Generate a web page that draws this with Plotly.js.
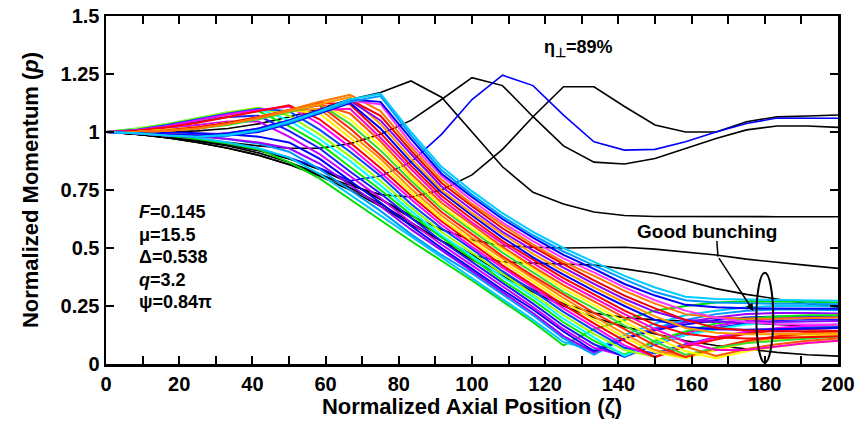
<!DOCTYPE html>
<html><head><meta charset="utf-8">
<script src="https://cdn.plot.ly/plotly-3.0.1.min.js"></script>
<style>html,body{margin:0;padding:0;background:#fff}#chart{width:858px;height:429px}</style>
</head><body><div id="chart"></div>
<script>
const zeta = [0,8.33,16.67,25,33.33,41.67,50,58.33,66.67,75,83.33,91.67,100,108.33,116.67,125,133.33,141.67,150,158.33,166.67,175,183.33,191.67,200];

// black / escaping trajectories
const blackA = [1,1.0,1.0,1.005,1.015,1.035,1.065,1.1,1.14,1.17,1.22,1.15,1.0,0.85,0.74,0.69,0.655,0.64,0.636,0.635,0.635,0.635,0.635,0.635,0.635];
const blackB = [1,0.995,0.985,0.97,0.955,0.94,0.93,0.93,0.95,0.99,1.05,1.14,1.234,1.2,1.066,0.94,0.87,0.862,0.886,0.93,0.972,1.009,1.026,1.026,1.02];
const blackC = [1,0.99,0.975,0.955,0.93,0.9,0.86,0.815,0.77,0.73,0.72,0.75,0.815,0.925,1.066,1.195,1.195,1.11,1.03,1.0,1.0,1.044,1.066,1.069,1.073];
const blackD = [1,0.99,0.98,0.965,0.945,0.92,0.885,0.84,0.78,0.71,0.64,0.58,0.535,0.51,0.503,0.5,0.5,0.503,0.495,0.484,0.47,0.452,0.44,0.425,0.412];
const blackE = [1,0.99,0.975,0.955,0.93,0.9,0.86,0.81,0.75,0.68,0.6,0.53,0.47,0.44,0.435,0.43,0.427,0.41,0.39,0.36,0.325,0.3,0.28,0.26,0.245];
const blackF = [1,0.99,0.975,0.96,0.94,0.91,0.87,0.82,0.76,0.69,0.61,0.53,0.45,0.38,0.31,0.25,0.2,0.16,0.13,0.1,0.08,0.065,0.05,0.04,0.034];
const blackG = [1,0.99,0.98,0.965,0.945,0.92,0.885,0.84,0.78,0.71,0.63,0.55,0.47,0.39,0.32,0.26,0.22,0.2,0.19,0.185,0.18,0.175,0.17,0.165,0.16];
const blueEsc = [1,0.995,0.985,0.97,0.95,0.925,0.89,0.845,0.79,0.81,0.87,0.99,1.14,1.245,1.2,1.073,0.958,0.922,0.925,0.958,1.0,1.037,1.06,1.06,1.059];

// coloured (trapped) trajectories
const p00 = [1,0.995,0.985,0.97,0.95,0.925,0.87,0.80,0.71,0.62,0.53,0.445,0.36,0.27,0.18,0.08,0.15,0.19,0.23,0.25,0.265,0.27,0.27,0.268,0.265];
const p01 = [1,0.997,0.99,0.975,0.955,0.93,0.89,0.82,0.73,0.64,0.55,0.46,0.37,0.28,0.19,0.095,0.06,0.125,0.175,0.21,0.23,0.245,0.25,0.25,0.248];
const p02 = [1,1.0,0.995,0.985,0.97,0.95,0.915,0.84,0.75,0.66,0.56,0.47,0.39,0.30,0.21,0.11,0.04,0.11,0.155,0.19,0.215,0.23,0.235,0.235,0.232];
const p03 = [1,0.998,0.992,0.982,0.97,0.955,0.93,0.864,0.77,0.68,0.58,0.49,0.40,0.31,0.22,0.12,0.05,0.11,0.15,0.18,0.20,0.215,0.22,0.22,0.218];
const p04 = [1,1.0,1.0,0.995,0.99,0.98,0.955,0.885,0.79,0.695,0.595,0.50,0.41,0.32,0.235,0.14,0.055,0.11,0.145,0.17,0.19,0.20,0.205,0.205,0.203];
const p05 = [1,1.005,1.015,1.03,1.045,1.045,0.98,0.905,0.81,0.715,0.61,0.515,0.425,0.335,0.245,0.15,0.07,0.035,0.09,0.135,0.165,0.185,0.195,0.2,0.2];
const p06 = [1,1.01,1.025,1.045,1.065,1.07,1.005,0.93,0.83,0.735,0.63,0.53,0.44,0.35,0.26,0.165,0.085,0.03,0.085,0.125,0.155,0.175,0.185,0.19,0.19];
const p07 = [1,1.012,1.03,1.05,1.075,1.09,1.025,0.95,0.85,0.75,0.645,0.545,0.455,0.36,0.275,0.18,0.10,0.04,0.10,0.14,0.175,0.195,0.205,0.21,0.21];
const p08 = [1,1.015,1.035,1.06,1.085,1.1,1.05,0.97,0.875,0.77,0.66,0.555,0.465,0.375,0.29,0.195,0.115,0.035,0.09,0.125,0.15,0.17,0.18,0.185,0.185];
const p09 = [1,1.015,1.035,1.06,1.085,1.105,1.07,0.99,0.895,0.79,0.675,0.57,0.48,0.39,0.30,0.21,0.13,0.06,0.03,0.075,0.11,0.135,0.15,0.16,0.165];
const p10 = [1,1.01,1.03,1.055,1.08,1.1,1.09,1.01,0.915,0.81,0.69,0.585,0.495,0.40,0.315,0.225,0.145,0.07,0.045,0.085,0.115,0.135,0.15,0.157,0.16];
const p11 = [1,1.008,1.025,1.05,1.075,1.095,1.11,1.035,0.935,0.825,0.71,0.60,0.505,0.415,0.33,0.24,0.16,0.08,0.03,0.08,0.115,0.14,0.155,0.165,0.17];
const p12 = [1,1.005,1.02,1.04,1.065,1.09,1.115,1.055,0.955,0.845,0.725,0.615,0.52,0.425,0.34,0.255,0.175,0.10,0.03,0.075,0.105,0.13,0.145,0.15,0.155];
const p13 = [1,1.0,1.01,1.02,1.04,1.065,1.095,1.08,0.975,0.865,0.74,0.625,0.53,0.44,0.355,0.27,0.19,0.115,0.05,0.025,0.06,0.09,0.105,0.12,0.127];
const p14 = [1,1.0,1.01,1.02,1.04,1.065,1.09,1.10,0.995,0.885,0.755,0.64,0.545,0.455,0.37,0.285,0.205,0.13,0.06,0.03,0.07,0.095,0.115,0.13,0.135];
const p15 = [1,1.0,1.005,1.015,1.035,1.06,1.09,1.115,1.015,0.90,0.775,0.655,0.56,0.465,0.38,0.30,0.22,0.15,0.08,0.03,0.07,0.10,0.12,0.135,0.142];
const p16 = [1,1.0,1.005,1.015,1.03,1.055,1.085,1.12,1.035,0.92,0.79,0.67,0.575,0.48,0.395,0.31,0.24,0.165,0.095,0.04,0.07,0.09,0.10,0.11,0.118];
const p17 = [1,1.0,1.01,1.02,1.04,1.065,1.095,1.125,1.055,0.94,0.805,0.68,0.585,0.495,0.41,0.325,0.255,0.18,0.115,0.055,0.025,0.055,0.075,0.09,0.10];
const p18 = [1,1.0,1.005,1.015,1.035,1.06,1.09,1.12,1.08,0.96,0.82,0.695,0.60,0.505,0.42,0.34,0.27,0.20,0.135,0.075,0.035,0.065,0.085,0.10,0.11];
const p19 = [1,0.995,0.988,0.985,0.995,1.015,1.05,1.095,1.10,0.975,0.84,0.71,0.61,0.52,0.435,0.355,0.285,0.215,0.15,0.095,0.06,0.06,0.075,0.09,0.10];
const p20 = [1,1.0,1.008,1.02,1.04,1.065,1.095,1.125,1.12,0.995,0.855,0.725,0.625,0.53,0.45,0.37,0.30,0.23,0.17,0.13,0.115,0.11,0.112,0.115,0.12];
const p21 = [1,0.995,0.985,0.98,0.985,1.0,1.035,1.08,1.125,1.015,0.87,0.74,0.64,0.545,0.46,0.385,0.315,0.25,0.19,0.16,0.15,0.148,0.15,0.152,0.155];
const p22 = [1,1.0,1.005,1.015,1.035,1.06,1.09,1.12,1.15,1.035,0.885,0.75,0.65,0.56,0.475,0.40,0.33,0.265,0.205,0.155,0.135,0.128,0.128,0.13,0.132];
const p23 = [1,0.995,0.985,0.98,0.99,1.01,1.045,1.09,1.135,1.05,0.905,0.765,0.665,0.57,0.49,0.415,0.345,0.28,0.225,0.19,0.182,0.18,0.182,0.185,0.185];
const p24 = [1,0.995,0.985,0.98,0.99,1.01,1.045,1.09,1.14,1.07,0.92,0.78,0.68,0.585,0.505,0.43,0.36,0.295,0.24,0.19,0.155,0.145,0.14,0.14,0.142];
const p25 = [1,1.0,1.005,1.015,1.035,1.06,1.095,1.13,1.16,1.09,0.935,0.795,0.69,0.60,0.515,0.44,0.38,0.315,0.26,0.215,0.20,0.195,0.195,0.198,0.20];
const p26 = [1,0.995,0.985,0.98,0.99,1.01,1.045,1.09,1.135,1.12,0.95,0.81,0.705,0.61,0.53,0.455,0.395,0.33,0.275,0.23,0.20,0.18,0.172,0.17,0.17];
const p27 = [1,0.995,0.987,0.985,0.995,1.015,1.05,1.095,1.14,1.13,0.97,0.82,0.72,0.625,0.545,0.47,0.41,0.345,0.295,0.255,0.245,0.24,0.24,0.24,0.238];
const p28 = [1,0.995,0.985,0.978,0.985,1.005,1.04,1.085,1.13,1.155,0.985,0.835,0.73,0.635,0.555,0.485,0.425,0.365,0.31,0.275,0.265,0.262,0.26,0.26,0.258];
const p29 = [1,0.995,0.985,0.98,0.988,1.008,1.045,1.09,1.14,1.165,1.0,0.85,0.745,0.65,0.57,0.50,0.44,0.38,0.33,0.29,0.28,0.278,0.276,0.275,0.273];

const blackSet = [blackA, blackB, blackC, blackD, blackE, blackF, blackG];
const colouredSet = [p00,p01,p02,p03,p04,p05,p06,p07,p08,p09,p10,p11,p12,p13,p14,p15,p16,p17,p18,p19,p20,p21,p22,p23,p24,p25,p26,p27,p28,p29];
const lineColours = ['#00dd00','#00c8ff','#0099ff','#9900ff','#0000ff','#cc00ff','#1a1aff','#00ee00','#00ffff','#99ff00',
                     '#0044ff','#ff00ff','#ff0000','#ffee00','#ff8800','#ff2200','#33dd33','#ffff00','#ff5500','#ff00cc',
                     '#ff0000','#0000ff','#ff9900','#8800ff','#ee0000','#ff7700','#ff33ff','#0000ff','#0099ff','#00ccff'];

const paramLines = ['<i>F</i>=0.145','\u03bc=15.5','\u0394=0.538','<i>q</i>=3.2','\u03c8=0.84\u03c0'];
const paramY = [0.655,0.556,0.461,0.362,0.267];

const traces = [];
blackSet.forEach(y => traces.push({x: zeta, y: y, mode:'lines', line:{color:'#000', width:1.6}, hoverinfo:'skip'}));
traces.push({x: zeta, y: blueEsc, mode:'lines', line:{color:'#0000ff', width:1.6}, hoverinfo:'skip'});
colouredSet.forEach((y,i) => traces.push({x: zeta, y: y, mode:'lines', line:{color: lineColours[i], width:2}, hoverinfo:'skip'}));

const FONT = 'Liberation Sans, Arial, sans-serif';
const annotations = paramLines.map((t,i) => ({x: 8.5, y: paramY[i], xref:'x', yref:'y', text:'<b>'+t+'</b>', showarrow:false, xanchor:'left', yanchor:'middle', font:{family:FONT, size:18, color:'#000'}}));
annotations.push({x:119, y:1.362, xref:'x', yref:'y', text:'<b>\u03b7<sub>\u22a5</sub>=89%</b>', showarrow:false, xanchor:'left', yanchor:'middle', font:{family:FONT, size:18, color:'#000'}});
annotations.push({x:164.2, y:0.569, xref:'x', yref:'y', text:'<b>Good bunching</b>', showarrow:false, xanchor:'center', yanchor:'middle', font:{family:FONT, size:19, color:'#000'}});
annotations.push({x:176.9, y:0.228, ax:167.2, ay:0.463, xref:'x', yref:'y', axref:'x', ayref:'y', text:'', showarrow:true, arrowhead:2, arrowsize:1, arrowwidth:1.5, arrowcolor:'#000', standoff:0});

const shapes = [
  {type:'line', xref:'x', yref:'y', x0:166.9, y0:0.53, x1:167.2, y1:0.463, line:{color:'#000', width:1.5}},
  {type:'circle', xref:'x', yref:'y', x0:177.7, x1:182.3, y0:0.006, y1:0.393, line:{color:'#000', width:2}}
];

const axisCommon = {ticks:'inside', ticklen:8, tickwidth:2, tickcolor:'#000', showline:true, linewidth:2.5, linecolor:'#000', mirror:'ticks', showgrid:false, zeroline:false,
  tickfont:{family:FONT, size:20, weight:'bold', color:'#000'}};

const layout = {
  width:858, height:429, margin:{l:106, r:20, t:16, b:65},
  paper_bgcolor:'#fff', plot_bgcolor:'#fff', showlegend:false,
  xaxis: Object.assign({}, axisCommon, {range:[0,200], tick0:0, dtick:20,
    minor:{dtick:10, ticks:'inside', ticklen:8, tickwidth:2, tickcolor:'#000', showgrid:false},
    title:{text:'Normalized Axial Position (\u03b6)', font:{family:FONT, size:22, weight:'bold', color:'#000'}, standoff:4}}),
  yaxis: Object.assign({}, axisCommon, {range:[0,1.5], tick0:0, dtick:0.25,
    title:{text:'Normalized Momentum (<i>p</i>)', font:{family:FONT, size:22, weight:'bold', color:'#000'}, standoff:16}}),
  annotations: annotations, shapes: shapes
};

Plotly.newPlot('chart', traces, layout, {displayModeBar:false, staticPlot:true});
</script></body></html>
